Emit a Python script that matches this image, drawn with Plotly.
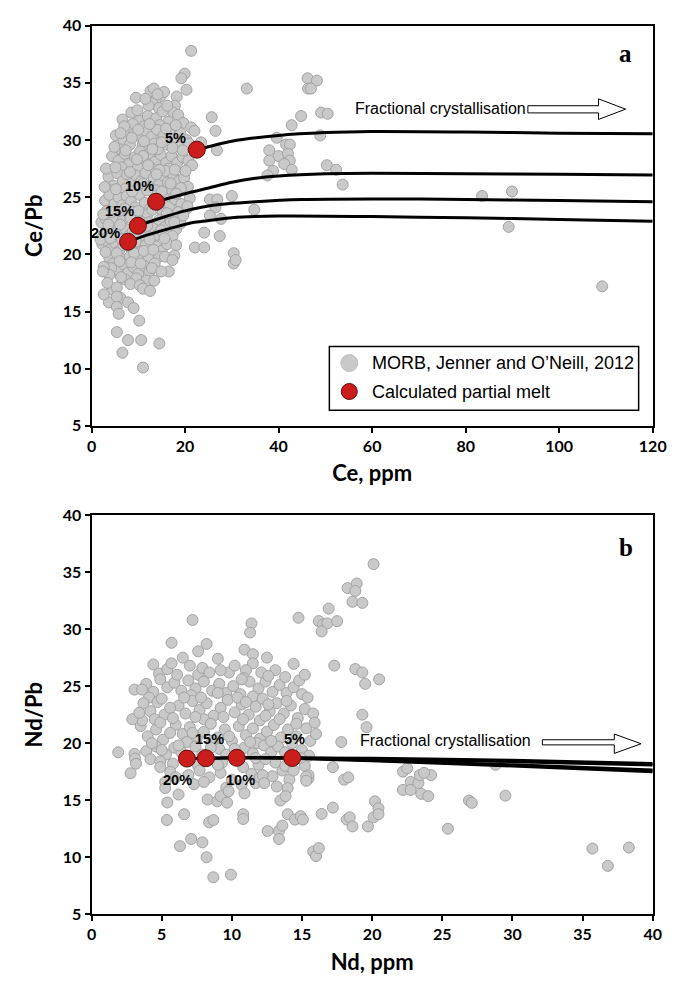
import plotly.graph_objects as go

# ---------------- Panel a : Ce/Pb vs Ce ----------------
# MORB glass analyses (Ce ppm, Ce/Pb)
morb_a = [
    (12.6, 34.3), (13.3, 34.5), (14.7, 33.8), (13.7, 33.5), (13.0, 33.2), (18.2, 33.8), (17.8, 33.0),
    (14.4, 32.8), (9.5, 33.7), (12.2, 33.0), (15.5, 34.2),
    (8.5, 32.4), (6.6, 31.8), (10.2, 31.7), (8.8, 31.4), (17.5, 32.4), (18.5, 32.2), (12.0, 32.1),
    (13.8, 31.9), (15.2, 32.5), (16.4, 31.6), (11.2, 31.2), (14.6, 31.3), (19.6, 31.5), (21.3, 31.1),
    (22.0, 30.8),
    (5.2, 30.4), (6.8, 30.0), (7.5, 30.8), (9.0, 30.5), (10.5, 30.2), (11.8, 30.7), (12.9, 30.3),
    (14.0, 30.9), (15.4, 30.4), (16.6, 30.8), (17.8, 30.1), (19.0, 30.6), (20.3, 30.0), (13.5, 29.7),
    (8.2, 29.6), (10.9, 29.5), (16.0, 29.6), (18.6, 29.4), (20.8, 29.7), (5.9, 29.2), (23.4, 29.8),
    (4.4, 28.6), (5.8, 28.2), (7.1, 28.8), (8.0, 27.9), (9.3, 28.5), (10.4, 29.0), (11.6, 28.2),
    (12.4, 28.8), (13.6, 28.1), (14.8, 28.7), (15.9, 28.0), (17.1, 28.6), (18.3, 28.0), (19.5, 28.5),
    (20.7, 28.2), (21.5, 27.8), (6.4, 27.6), (9.9, 27.6), (12.9, 27.5), (16.5, 27.5), (11.0, 28.6),
    (14.2, 29.2),
    (3.6, 26.8), (4.7, 26.0), (5.5, 27.1), (6.7, 26.4), (7.6, 27.0), (8.6, 26.2), (9.5, 26.9),
    (10.6, 26.4), (11.5, 27.1), (12.3, 26.0), (13.3, 26.7), (14.4, 26.1), (15.3, 26.9), (16.3, 26.3),
    (17.4, 27.0), (18.6, 26.4), (19.8, 26.7), (4.0, 25.6), (7.1, 25.7), (10.0, 25.8), (13.8, 25.6),
    (17.0, 25.7), (20.6, 25.9), (15.8, 27.3),
    (2.9, 24.7), (3.8, 25.2), (4.9, 24.4), (5.8, 25.0), (6.6, 24.3), (7.5, 25.1), (8.4, 24.6),
    (9.4, 24.1), (10.3, 25.2), (11.4, 24.5), (12.5, 24.0), (13.5, 25.1), (14.6, 24.3), (15.6, 24.9),
    (16.7, 24.2), (17.9, 24.8), (19.2, 24.4), (20.4, 24.0), (3.3, 23.8), (6.0, 23.6), (8.8, 23.7),
    (12.0, 23.5), (15.2, 23.6), (18.5, 23.7), (21.0, 24.9), (20.5, 24.2),
    (2.1, 22.8), (3.0, 23.1), (4.0, 22.3), (4.8, 23.0), (5.7, 22.1), (6.5, 22.9), (7.3, 22.2),
    (8.3, 23.2), (9.2, 22.4), (10.4, 22.9), (11.3, 22.1), (12.3, 22.8), (13.4, 22.3), (14.5, 23.0),
    (15.7, 22.4), (16.9, 22.9), (18.1, 22.2), (19.0, 22.7), (2.6, 21.7), (5.1, 21.6), (7.9, 21.6),
    (10.9, 21.5), (14.0, 21.7), (17.3, 21.6),
    (2.3, 20.9), (3.2, 21.2), (4.2, 20.5), (5.0, 21.0), (5.9, 20.3), (6.8, 20.8), (8.6, 20.4),
    (9.5, 21.1), (10.5, 20.2), (11.6, 20.8), (12.7, 20.1), (13.8, 20.7), (15.0, 20.3), (16.2, 20.9),
    (3.8, 19.7), (6.3, 19.6), (8.2, 19.8), (10.0, 19.6), (12.2, 19.7), (14.4, 19.8),
    (4.6, 19.2), (5.6, 18.6), (6.9, 19.1), (7.8, 18.4), (8.9, 18.9), (10.0, 18.3), (11.2, 19.0),
    (12.4, 18.5), (13.5, 19.2), (9.6, 17.9), (11.8, 17.7), (7.2, 17.8),
    (7.0, 31.2), (9.8, 32.6), (11.5, 33.6), (16.2, 33.0), (14.1, 34.0), (12.4, 31.4), (10.0, 30.9),
    (15.9, 31.0), (18.0, 31.3), (6.2, 30.6), (8.6, 30.2), (11.2, 29.9), (13.0, 29.2), (15.0, 29.8),
    (17.3, 29.3), (19.5, 29.1), (4.9, 29.4), (7.3, 29.1), (9.7, 28.3), (12.1, 27.8), (14.5, 27.4),
    (17.8, 27.4), (20.1, 27.3), (3.1, 27.5), (5.1, 27.6), (8.2, 27.2), (11.0, 26.2), (13.9, 27.0),
    (16.9, 26.2), (19.1, 25.8), (2.8, 25.9), (5.2, 25.7), (8.7, 25.5), (11.9, 25.6), (15.0, 25.5),
    (18.1, 25.3), (4.3, 23.7), (7.1, 24.0), (10.0, 23.8), (13.0, 23.9), (16.1, 23.6), (19.6, 23.4),
    (2.5, 23.5), (3.6, 22.6), (6.1, 22.6), (8.8, 22.0), (11.9, 22.5), (14.9, 22.1), (17.7, 22.8),
    (1.9, 21.3), (4.0, 21.4), (6.5, 21.3), (9.3, 21.8), (12.4, 21.3), (15.6, 21.4), (3.0, 20.2),
    (5.4, 20.1), (7.6, 20.9), (9.1, 20.1), (11.2, 20.3), (13.2, 20.4), (15.7, 19.8), (4.2, 18.8),
    (6.0, 19.4), (8.5, 19.3), (10.5, 19.2), (12.9, 18.8), (3.8, 18.2), (6.3, 18.0), (8.3, 17.4),
    (10.3, 17.3), (13.4, 17.7), (4.5, 16.9), (6.2, 16.2), (3.7, 15.8),
    (2.6, 18.9), (2.4, 18.5), (2.6, 16.5), (3.4, 17.5), (5.4, 17.1), (5.4, 16.3), (5.4, 15.4),
    (5.8, 14.8), (7.8, 15.8), (9.0, 15.3), (10.2, 14.2), (7.8, 12.5), (10.6, 12.5), (14.5, 12.2),
    (6.6, 11.4), (11.0, 10.1), (5.4, 13.2), (11.0, 17.0), (12.5, 16.8),
    (21.3, 37.8), (33.2, 34.5), (46.2, 35.4), (48.2, 35.2), (46.3, 34.5), (46.9, 34.5), (44.8, 32.1),
    (42.8, 31.3), (49.1, 32.4), (50.5, 32.3), (25.7, 32.0), (26.5, 30.8), (48.9, 30.4), (39.6, 30.2),
    (41.6, 29.6), (42.4, 29.6), (38.0, 29.1), (40.0, 28.6), (42.0, 28.8), (42.4, 28.2), (38.0, 28.2),
    (41.2, 27.9), (42.8, 27.4), (38.8, 27.3), (37.6, 26.9), (50.3, 27.8), (52.3, 27.4), (53.7, 26.1),
    (83.5, 25.1), (89.9, 25.5), (89.2, 22.4), (109.2, 17.2), (30.0, 25.1), (25.3, 24.8), (26.9, 24.8),
    (26.5, 24.1), (25.3, 23.4), (27.7, 23.1), (34.8, 23.9), (24.1, 21.9), (22.1, 20.6), (24.1, 20.6),
    (27.4, 21.6), (30.4, 20.1), (30.4, 19.2), (30.8, 19.5), (18.1, 20.8), (17.7, 19.9), (17.3, 19.5),
    (16.5, 18.5), (14.9, 18.5), (19.9, 35.8), (19.2, 35.4), (20.3, 34.4), (26.8, 29.1),
]

# calculated partial melts (5, 10, 15, 20 %)
melt_labels = ["5%", "10%", "15%", "20%"]
melt_ce = [22.5, 13.8, 9.9, 7.8]
melt_cepb = [29.15, 24.6, 22.5, 21.1]

# fractional crystallisation paths starting from each melt
fc_a_ce = {
    "5%": [22.5, 30, 40, 50, 60, 80, 100, 120],
    "10%": [13.8, 20, 25, 30, 35, 40, 50, 60, 80, 100, 120],
    "15%": [9.9, 15, 20, 26, 35, 45, 60, 80, 100, 120],
    "20%": [7.8, 12, 18, 22, 26, 30, 40, 60, 80, 100, 120],
}
fc_a_cepb = {
    "5%": [29.15, 29.9, 30.4, 30.65, 30.75, 30.7, 30.6, 30.55],
    "10%": [24.6, 25.3, 25.8, 26.3, 26.65, 26.85, 27.05, 27.1, 27.05, 27.0, 26.95],
    "15%": [22.5, 23.2, 23.8, 24.3, 24.6, 24.8, 24.85, 24.8, 24.7, 24.6],
    "20%": [21.1, 21.7, 22.4, 22.8, 23.0, 23.2, 23.35, 23.3, 23.2, 23.05, 22.9],
}
# label anchor points for panel a (Ce, Ce/Pb)
label_a_ce = [18.0, 10.2, 6.0, 2.9]
label_a_cepb = [30.2, 26.0, 23.8, 21.9]

# ---------------- Panel b : Nd/Pb vs Nd ----------------
morb_b = [
    (4.8, 26.1), (5.4, 26.5), (5.7, 27.0), (7.6, 26.0), (7.9, 26.6), (8.4, 26.2), (9.8, 26.2),
    (10.2, 26.8), (4.4, 26.9), (13.1, 26.4),
    (3.9, 25.2), (4.4, 24.5), (4.9, 25.6), (5.4, 24.9), (5.9, 25.3), (6.4, 24.6), (6.9, 25.5),
    (7.4, 24.8), (8.0, 25.4), (8.6, 24.6), (9.1, 25.2), (9.6, 24.4), (10.1, 25.0), (10.6, 24.3),
    (11.9, 24.8), (12.4, 25.4), (12.9, 24.5), (13.4, 25.1), (13.9, 24.4), (14.4, 24.9), (15.0, 24.3),
    (4.1, 24.0), (7.1, 24.2), (11.5, 24.1),
    (3.7, 23.5), (4.2, 22.8), (4.7, 23.6), (5.2, 22.5), (6.2, 23.3), (6.7, 22.6), (7.2, 23.7),
    (7.7, 22.9), (8.2, 23.5), (8.7, 22.4), (9.2, 23.1), (9.7, 23.8), (10.2, 22.7), (10.7, 23.4),
    (11.2, 22.5), (11.7, 23.2), (12.2, 23.9), (12.7, 22.8), (13.2, 23.5), (13.7, 22.6), (14.2, 23.3),
    (14.7, 22.2), (15.2, 23.0), (15.8, 22.6), (4.5, 22.1), (8.0, 22.1), (12.0, 22.0),
    (3.5, 21.5), (4.0, 20.6), (4.6, 21.2), (5.1, 20.3), (6.0, 21.6), (6.5, 20.8), (7.0, 21.4),
    (7.5, 20.4), (8.0, 21.0), (8.5, 21.7), (9.0, 20.5), (9.5, 21.2), (10.0, 20.2), (10.5, 21.5),
    (11.0, 20.7), (11.5, 21.3), (12.0, 20.4), (12.5, 21.0), (13.0, 21.6), (13.5, 20.5), (14.0, 21.2),
    (14.6, 20.6), (15.3, 21.3), (15.6, 20.2), (6.8, 20.1), (11.8, 20.0),
    (3.9, 19.3), (4.6, 19.7), (5.3, 19.0), (5.9, 19.6), (6.4, 19.2), (7.4, 19.7), (7.9, 19.0),
    (9.1, 19.5), (9.6, 19.0), (10.9, 19.6), (11.5, 19.1), (12.3, 19.8), (12.8, 19.2), (13.3, 19.7),
    (13.8, 19.2), (15.0, 19.4), (15.5, 18.9), (5.8, 18.2), (7.6, 18.0), (9.3, 18.3), (11.9, 18.1),
    (13.1, 18.3), (15.2, 18.0), (12.4, 18.6),
    (5.6, 17.5), (6.9, 17.2), (7.7, 17.6), (8.4, 17.0), (9.2, 17.4), (10.0, 16.8), (11.4, 17.3),
    (12.9, 17.1), (13.6, 17.6), (7.3, 16.4), (9.6, 16.1), (11.7, 16.5), (14.1, 16.8),
    (5.0, 23.9), (5.6, 23.1), (6.6, 24.0), (7.8, 24.0), (9.0, 24.4), (10.4, 24.0), (11.0, 23.6),
    (12.6, 23.4), (13.9, 23.7), (15.4, 24.0), (14.8, 25.5), (3.6, 22.0), (4.9, 21.8), (5.8, 22.2),
    (7.4, 22.3), (9.4, 22.3), (10.8, 22.1), (12.4, 22.4), (13.4, 22.1), (14.6, 21.7), (15.9, 21.8),
    (4.3, 20.0), (5.6, 20.9), (7.2, 20.9), (8.6, 20.2), (9.8, 20.6), (11.3, 20.1), (12.8, 20.2),
    (14.3, 20.0), (16.0, 20.8), (4.2, 18.6), (5.0, 19.4), (6.2, 19.8), (8.5, 19.6), (10.2, 19.5),
    (11.7, 18.7), (13.8, 18.0), (14.9, 18.7), (6.0, 17.0), (8.0, 16.6), (9.0, 18.1), (10.8, 17.9),
    (12.0, 17.0), (13.2, 16.2), (6.1, 26.0), (9.2, 26.4), (7.0, 26.8), (12.1, 26.2), (13.8, 25.8),
    (6.5, 27.5), (9.0, 27.4),
    (20.1, 35.7), (18.25, 33.6), (18.9, 34.0), (18.8, 33.35), (18.6, 32.4), (19.3, 32.3), (16.9, 31.8),
    (16.2, 30.7), (16.5, 30.4), (16.8, 30.5), (16.4, 29.8), (17.5, 30.7), (14.75, 31.0), (11.4, 30.5),
    (11.3, 29.7), (7.2, 30.8), (5.7, 28.8), (7.6, 28.05), (8.2, 28.7), (10.9, 28.2), (11.5, 27.8),
    (11.5, 27.0), (11.0, 26.4), (10.86, 25.7), (11.26, 25.4), (10.7, 25.6), (12.5, 27.5), (12.6, 25.9),
    (14.4, 26.96), (15.2, 26.0), (17.3, 26.8), (18.8, 26.5), (19.3, 26.2), (19.5, 25.2), (20.5, 25.6),
    (19.3, 22.5), (17.8, 20.1), (19.6, 21.4),
    (1.9, 19.2), (3.06, 19.07), (3.1, 18.65), (3.17, 18.2), (2.78, 17.36), (3.06, 24.7), (3.6, 24.7),
    (2.9, 22.1), (3.4, 22.66),
    (4.9, 18.4), (4.9, 17.9), (5.25, 16.6), (5.25, 16.07), (5.4, 14.8), (5.37, 13.26), (6.6, 13.77),
    (6.2, 15.5), (6.3, 10.97), (7.1, 11.6), (7.9, 11.3), (8.2, 10.0), (8.68, 8.24), (9.93, 8.47),
    (8.38, 13.06), (8.68, 13.26), (8.27, 15.06), (8.96, 14.9), (9.2, 15.35), (9.66, 14.78), (9.77, 15.78),
    (10.81, 13.77), (10.81, 13.35), (10.7, 16.35), (10.9, 15.6), (12.2, 17.2), (12.3, 16.5),
    (12.55, 12.3), (13.36, 12.3), (13.36, 11.6),
    (13.46, 14.97), (13.6, 12.77), (13.98, 16.06), (13.98, 13.77), (13.83, 15.35), (14.5, 13.3),
    (14.9, 13.6), (15.06, 13.3), (15.46, 16.9), (15.46, 17.2), (15.8, 10.5), (16.0, 10.1), (16.2, 10.8),
    (16.4, 13.8), (17.2, 14.35), (18.2, 13.3), (18.4, 13.5), (18.6, 12.7), (18.0, 16.8), (18.3, 17.0),
    (19.7, 12.7), (20.1, 13.5), (20.2, 14.9), (20.45, 14.3), (20.45, 13.77), (22.2, 15.9), (22.75, 16.6),
    (22.75, 15.9), (23.3, 16.5), (23.4, 17.2), (23.5, 15.55), (24.2, 17.2), (24.0, 15.35), (22.2, 17.5),
    (22.5, 17.8), (23.7, 17.4), (26.9, 14.97), (27.1, 14.77), (25.4, 12.5), (29.5, 15.4), (35.7, 10.76),
    (36.8, 9.24), (38.3, 10.85), (14.4, 17.6), (15.3, 17.07), (15.3, 16.7), (17.2, 17.9), (28.8, 18.1),
]

melt_nd = [14.3, 10.35, 8.15, 6.8]
melt_ndpb = [18.7, 18.72, 18.68, 18.65]

fc_b_nd = {
    "5%": [14.3, 20, 30, 40],
    "10%": [10.35, 14.3, 20, 30, 40],
    "15%": [8.15, 10.35, 14.3, 20, 30, 40],
    "20%": [6.8, 8.15, 10.35, 14.3, 20, 30, 40],
}
fc_b_ndpb = {
    "5%": [18.7, 18.68, 18.5, 18.22],
    "10%": [18.72, 18.72, 18.6, 18.38, 18.08],
    "15%": [18.68, 18.72, 18.7, 18.5, 18.1, 17.65],
    "20%": [18.65, 18.68, 18.72, 18.68, 18.45, 18.0, 17.5],
}
label_b_nd = [14.5, 10.65, 8.4, 6.1]
label_b_ndpb = [20.4, 16.8, 20.4, 16.8]

# axis ticks
ce_ticks = [0, 20, 40, 60, 80, 100, 120]
nd_ticks = [0, 5, 10, 15, 20, 25, 30, 35, 40]
ratio_ticks = [5, 10, 15, 20, 25, 30, 35, 40]

# ---------------- styling ----------------
W, H = 693, 986
GRAY_FILL, GRAY_LINE = "#c9c9c9", "#a3a3a3"
RED_FILL, RED_LINE = "#cc1d1d", "#5e0e0e"
TICK_FONT = dict(family="Lato", size=16, color="black", weight="bold")
TITLE_FONT = dict(family="Lato", size=22, color="black", weight="bold")
PCT_FONT = dict(family="Liberation Sans", size=14.5, color="black", weight="bold")


def px_x(p):
    return p / W


def px_y(p):
    return 1 - p / H


def bold_ticks(vals):
    return dict(tickmode="array", tickvals=vals, ticktext=[f"<b>{v}</b>" for v in vals])


fig = go.Figure()

panels = [
    ("x", "y", morb_a, fc_a_ce, fc_a_cepb, melt_ce, melt_cepb),
    ("x2", "y2", morb_b, fc_b_nd, fc_b_ndpb, melt_nd, melt_ndpb),
]
for xa, ya, morb, fcx, fcy, mx, my in panels:
    fig.add_trace(go.Scatter(
        x=[p[0] for p in morb], y=[p[1] for p in morb], mode="markers",
        xaxis=xa, yaxis=ya, showlegend=False, cliponaxis=True,
        marker=dict(size=11, color=GRAY_FILL, line=dict(color=GRAY_LINE, width=1)),
    ))
    for key in melt_labels:
        fig.add_trace(go.Scatter(
            x=fcx[key], y=fcy[key], mode="lines", xaxis=xa, yaxis=ya, showlegend=False,
            line=dict(color="black", width=3, shape="spline", smoothing=0.8),
        ))
    fig.add_trace(go.Scatter(
        x=mx, y=my, mode="markers", xaxis=xa, yaxis=ya, showlegend=False,
        marker=dict(size=17, color=RED_FILL, line=dict(color=RED_LINE, width=1)),
    ))

annotations = []
for t, lx, ly in zip(melt_labels, label_a_ce, label_a_cepb):
    annotations.append(dict(x=lx, y=ly, xref="x", yref="y", text=f"<b>{t}</b>", showarrow=False, font=PCT_FONT))
for t, lx, ly in zip(melt_labels, label_b_nd, label_b_ndpb):
    annotations.append(dict(x=lx, y=ly, xref="x2", yref="y2", text=f"<b>{t}</b>", showarrow=False, font=PCT_FONT))

FC_FONT = dict(family="Liberation Sans", size=16, color="black")
annotations += [
    dict(x=74.6, y=32.8, xref="x", yref="y", text="Fractional crystallisation", showarrow=False, font=FC_FONT),
    dict(x=25.2, y=20.2, xref="x2", yref="y2", text="Fractional crystallisation", showarrow=False, font=FC_FONT),
    dict(x=114.2, y=37.6, xref="x", yref="y", text="<b>a</b>", showarrow=False,
         font=dict(family="Liberation Serif", size=25, color="black")),
    dict(x=38.1, y=37.2, xref="x2", yref="y2", text="<b>b</b>", showarrow=False,
         font=dict(family="Liberation Serif", size=25, color="black")),
]

LEG_FONT = dict(family="Liberation Sans", size=18, color="black")
annotations += [
    dict(x=px_x(375), y=px_y(360), xref="paper", yref="paper", xanchor="left", yanchor="middle",
         text="MORB, Jenner and O’Neill, 2012", showarrow=False, font=LEG_FONT),
    dict(x=px_x(375), y=px_y(389), xref="paper", yref="paper", xanchor="left", yanchor="middle",
         text="Calculated partial melt", showarrow=False, font=LEG_FONT),
]


def block_arrow(x0, xh, xt, s0, s1, h0, h1, tip, xref, yref):
    path = (f"M {x0},{s0} L {xh},{s0} L {xh},{h0} L {xt},{tip} L {xh},{h1} "
            f"L {xh},{s1} L {x0},{s1} Z")
    return dict(type="path", path=path, xref=xref, yref=yref,
                fillcolor="white", line=dict(color="black", width=1))


shapes = [
    block_arrow(93.3, 108.4, 114.2, 32.37, 33.0, 31.8, 33.6, 32.7, "x", "y"),
    block_arrow(32.13, 37.26, 39.17, 19.85, 20.3, 19.1, 20.8, 19.95, "x2", "y2"),
    dict(type="rect", xref="paper", yref="paper", x0=px_x(333.5), x1=px_x(651.5),
         y0=px_y(408), y1=px_y(343), line=dict(color="black", width=1.5), fillcolor="white",
         layer="above"),
    dict(type="circle", xref="paper", yref="paper", xsizemode="pixel", ysizemode="pixel",
         xanchor=px_x(354), yanchor=px_y(360), x0=-8.5, x1=8.5, y0=-8.5, y1=8.5,
         fillcolor=GRAY_FILL, line=dict(color="#c0c0c0", width=1), layer="above"),
    dict(type="circle", xref="paper", yref="paper", xsizemode="pixel", ysizemode="pixel",
         xanchor=px_x(354), yanchor=px_y(389), x0=-8, x1=8, y0=-8, y1=8,
         fillcolor=RED_FILL, line=dict(color=RED_LINE, width=1), layer="above"),
]

axis_common = dict(
    showline=True, mirror=True, linecolor="black", linewidth=2,
    ticks="outside", ticklen=5, tickwidth=2, tickcolor="black",
    showgrid=False, zeroline=False, tickfont=TICK_FONT,
)
xdom = [px_x(89), px_x(666)]

fig.update_layout(
    width=W, height=H, margin=dict(l=0, r=0, t=0, b=0),
    paper_bgcolor="white", plot_bgcolor="white", showlegend=False,
    xaxis=dict(domain=xdom, range=[0, 120], anchor="y", **bold_ticks(ce_ticks),
               title=dict(text="Ce, ppm", font=TITLE_FONT, standoff=12), **axis_common),
    yaxis=dict(domain=[px_y(424), px_y(16)], range=[5, 40], anchor="x", **bold_ticks(ratio_ticks),
               title=dict(text="Ce/Pb", font=TITLE_FONT, standoff=14), **axis_common),
    xaxis2=dict(domain=xdom, range=[0, 40], anchor="y2", **bold_ticks(nd_ticks),
                title=dict(text="Nd, ppm", font=TITLE_FONT, standoff=12), **axis_common),
    yaxis2=dict(domain=[px_y(922), px_y(515)], range=[5, 40], anchor="x2", **bold_ticks(ratio_ticks),
                title=dict(text="Nd/Pb", font=TITLE_FONT, standoff=14), **axis_common),
    annotations=annotations, shapes=shapes,
)

fig.write_html("out.html")
